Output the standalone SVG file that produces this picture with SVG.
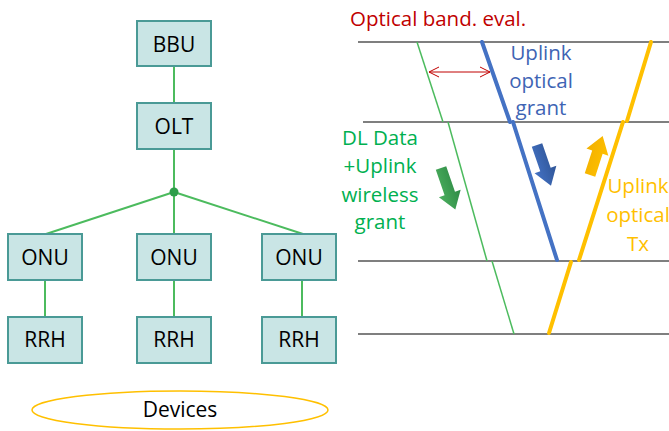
<svg xmlns="http://www.w3.org/2000/svg" width="669" height="431" viewBox="0 0 669 431">
<style>
.box{fill:#c9e5e5;stroke:#4a9a96;stroke-width:2}
.lbl{font-family:"Open Sans","Liberation Sans",sans-serif;font-size:21px;fill:#000;text-anchor:middle}
.con{stroke:#4cbb5e;stroke-width:2;fill:none}
.ax{stroke:#000;stroke-width:1.2}
.txt{font-family:"Open Sans","Liberation Sans",sans-serif;font-size:20.5px;text-anchor:middle}
</style>
<defs>
<marker id="oa" viewBox="0 0 12 12" refX="11" refY="6" markerWidth="12" markerHeight="12" markerUnits="userSpaceOnUse" orient="auto-start-reverse">
<path d="M1,1 L11,6 L1,11" fill="none" stroke="#c00000" stroke-width="1"/>
</marker>
<linearGradient id="gb" x1="0" y1="0" x2="1" y2="0"><stop offset="0" stop-color="#4472c4"/><stop offset="1" stop-color="#2f5597"/></linearGradient>
<linearGradient id="gg" x1="0" y1="0" x2="1" y2="0"><stop offset="0" stop-color="#4caf5f"/><stop offset="1" stop-color="#2e8b45"/></linearGradient>
<linearGradient id="gy" x1="0" y1="0" x2="1" y2="0"><stop offset="0" stop-color="#ffc000"/><stop offset="1" stop-color="#f2b000"/></linearGradient>
</defs>

<g id="connectors">
<line class="con" x1="174" y1="66" x2="174" y2="103"/>
<line class="con" x1="174" y1="149" x2="174" y2="192"/>
<line class="con" x1="174" y1="192" x2="46" y2="234"/>
<line class="con" x1="174" y1="192" x2="174" y2="234"/>
<line class="con" x1="174" y1="192" x2="303" y2="234"/>
<line class="con" x1="45" y1="280" x2="45" y2="317"/>
<line class="con" x1="174" y1="280" x2="174" y2="317"/>
<line class="con" x1="302" y1="280" x2="302" y2="317"/>
<circle cx="174" cy="192" r="4.5" fill="#2e9e4a"/>
</g>

<g id="BBU"><rect class="box" x="137" y="21" width="74" height="45"/><text class="lbl" x="174" y="52">BBU</text></g>
<g id="OLT"><rect class="box" x="137" y="103" width="74" height="46"/><text class="lbl" x="174" y="134">OLT</text></g>
<g id="ONU1"><rect class="box" x="8" y="234" width="74" height="46"/><text class="lbl" x="45" y="265">ONU</text></g>
<g id="ONU2"><rect class="box" x="137" y="234" width="74" height="46"/><text class="lbl" x="174" y="265">ONU</text></g>
<g id="ONU3"><rect class="box" x="262" y="234" width="74" height="46"/><text class="lbl" x="299" y="265">ONU</text></g>
<g id="RRH1"><rect class="box" x="8" y="317" width="74" height="46"/><text class="lbl" x="45" y="347">RRH</text></g>
<g id="RRH2"><rect class="box" x="137" y="317" width="74" height="46"/><text class="lbl" x="174" y="347">RRH</text></g>
<g id="RRH3"><rect class="box" x="262" y="317" width="74" height="46"/><text class="lbl" x="299" y="347">RRH</text></g>
<g id="Devices"><ellipse cx="180" cy="410" rx="148" ry="19" fill="none" stroke="#ffc000" stroke-width="1.5"/><text class="lbl" x="180" y="417">Devices</text></g>

<g id="timing">
<line class="ax" x1="358" y1="42" x2="669" y2="42"/>
<line class="ax" x1="363" y1="122" x2="669" y2="122"/>
<line class="ax" x1="358" y1="261" x2="669" y2="261"/>
<line class="ax" x1="358" y1="334" x2="669" y2="334"/>

<g stroke="#4cbb5e" stroke-width="1.5" fill="none">
<line x1="417" y1="42" x2="443" y2="122"/>
<line x1="448" y1="122" x2="487" y2="261"/>
<line x1="492" y1="261" x2="514" y2="334"/>
</g>
<g stroke="#4472c4" stroke-width="4" fill="none" stroke-linecap="round">
<line x1="482" y1="42" x2="510" y2="122"/>
<line x1="513" y1="122" x2="557" y2="260"/>
</g>
<g stroke="#ffc000" stroke-width="4" fill="none" stroke-linecap="round">
<line x1="651" y1="42" x2="627" y2="121"/>
<line x1="623" y1="122" x2="579" y2="260"/>
<line x1="571" y1="262" x2="549" y2="333"/>
</g>
<line x1="429" y1="72" x2="490" y2="72" stroke="#c00000" stroke-width="1" marker-start="url(#oa)" marker-end="url(#oa)"/>

<path transform="translate(537,145) rotate(-19)" d="M-5.5,0 L5.5,0 L5.5,26 L11.5,26 L0,43 L-11.5,26 L-5.5,26 Z" fill="url(#gb)"/>
<path transform="translate(441,168) rotate(-19)" d="M-5.5,0 L5.5,0 L5.5,27 L11.5,27 L0,44 L-11.5,27 L-5.5,27 Z" fill="url(#gg)"/>
<path transform="translate(590,175) rotate(-162)" d="M-5.5,0 L5.5,0 L5.5,24 L11.5,24 L0,41 L-11.5,24 L-5.5,24 Z" fill="url(#gy)"/>

<text class="txt" x="350" y="26" fill="#c00000" style="text-anchor:start">Optical band. eval.</text>
<text class="txt" fill="#3e64b4"><tspan x="541" y="60">Uplink</tspan><tspan x="541" y="88">optical</tspan><tspan x="541" y="115">grant</tspan></text>
<text class="txt" fill="#00b050"><tspan x="380" y="145">DL Data</tspan><tspan x="380" y="173">+Uplink</tspan><tspan x="380" y="202">wireless</tspan><tspan x="380" y="229">grant</tspan></text>
<text class="txt" fill="#ffc000"><tspan x="638" y="193">Uplink</tspan><tspan x="638" y="222">optical</tspan><tspan x="638" y="251">Tx</tspan></text>
</g>
</svg>
